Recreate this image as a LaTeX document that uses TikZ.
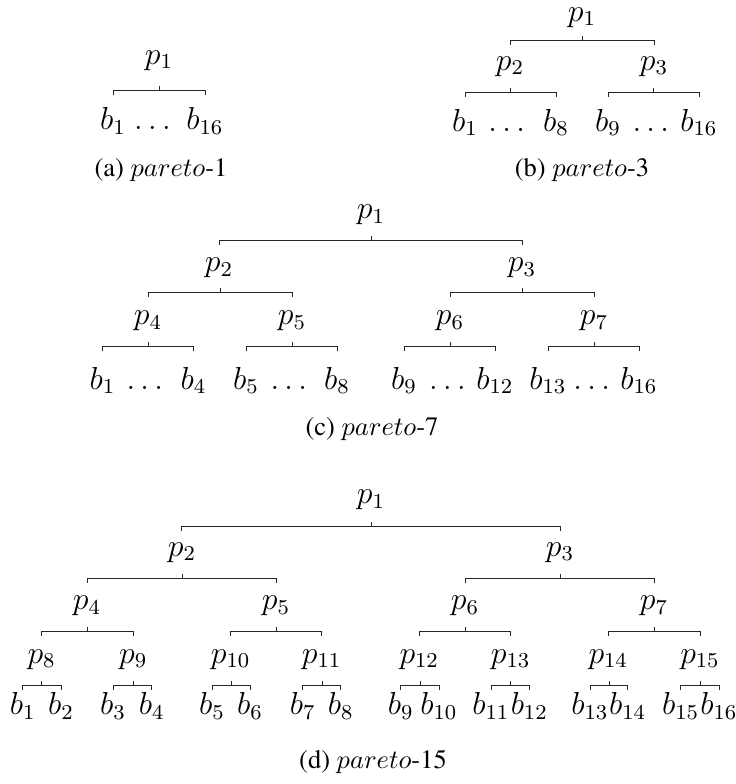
\documentclass[tikz,border=0pt]{standalone}
\usepackage{fontspec}
\IfFontExistsTF{TeX Gyre Termes}{\setmainfont{TeX Gyre Termes}}{\setmainfont{Liberation Serif}}
\newcommand\brk[4]{%
  \pgfmathsetmacro\bkXl{floor(#1)+0.5}%
  \pgfmathsetmacro\bkXm{floor(#2)+0.5}%
  \pgfmathsetmacro\bkXr{floor(#3)+0.5}%
  \pgfmathsetmacro\bkY{floor(#4)+0.5}%
  \draw[brkline] (\bkXl,\bkY+4) -- (\bkXl,\bkY) -- (\bkXr,\bkY) -- (\bkXr,\bkY+4);
  \draw[brkline] (\bkXm,\bkY) -- (\bkXm,\bkY-5);}
\begin{document}
\begin{tikzpicture}[x=0.37736pt,y=-0.37736pt,
  brkline/.style={line width=0.42pt, line cap=butt, draw=black!85},
  lab/.style={anchor=base, inner sep=0pt, font=\fontsize{12}{14}\selectfont},
  leaf/.style={anchor=base, inner sep=0pt, font=\fontsize{12}{14}\selectfont},
  captext/.style={anchor=base, inner sep=0pt, font=\fontsize{10}{12}\selectfont}]
\useasboundingbox (0,0) rectangle (736,784);
% ---------- (a) ----------
\node[lab] (a1) at (159,64) {$p_1$};
\brk{113}{159}{205}{90}
\node[leaf] (ab1) at (113,129.5) {$b_1$};
\node[leaf] (adots) at (152.5,129.5) {$\ldots$};
\node[leaf] (ab16) at (205,129.5) {$b_{16}$};
\node[captext] (acap) at (161,176) {(a) $pareto$-1};
% ---------- (b) ----------
\node[lab] (b1) at (582,21) {$p_1$};
\brk{510}{582}{654}{40}
\node[lab] (b2) at (510,70) {$p_2$};
\node[lab] (b3) at (654,70) {$p_3$};
\brk{465}{510}{556}{92}
\brk{608}{653}{699}{92}
\node[leaf] (bb1) at (465,131) {$b_1$};
\node[leaf] (bd1) at (506.7,131) {$\ldots$};
\node[leaf] (bb8) at (556,131) {$b_8$};
\node[leaf] (bb9) at (608,131) {$b_9$};
\node[leaf] (bd2) at (650.8,131) {$\ldots$};
\node[leaf] (bb16) at (699,131) {$b_{16}$};
\node[captext] (bcap) at (582,176) {(b) $pareto$-3};
% ---------- (c) ----------
\node[lab] (c1) at (371,218.5) {$p_1$};
\brk{219}{371}{522}{240}
\node[lab] (c2) at (219,271.5) {$p_2$};
\node[lab] (c3) at (522,271.5) {$p_3$};
\brk{148}{220}{292}{292}
\brk{450}{522}{594}{292}
\node[lab] (c4) at (148,324.5) {$p_4$};
\node[lab] (c5) at (292,324.5) {$p_5$};
\node[lab] (c6) at (450,324.5) {$p_6$};
\node[lab] (c7) at (594,324.5) {$p_7$};
\brk{102.5}{148}{193.6}{346}
\brk{246}{292}{337}{346}
\brk{404}{450}{495}{346}
\brk{548}{594}{639}{346}
\node[leaf] (cb1) at (102.5,389) {$b_1$};
\node[leaf] (cd1) at (144.8,389) {$\ldots$};
\node[leaf] (cb4) at (193.6,389) {$b_4$};
\node[leaf] (cb5) at (246,389) {$b_5$};
\node[leaf] (cd2) at (288.8,389) {$\ldots$};
\node[leaf] (cb8) at (337,389) {$b_8$};
\node[leaf] (cb9) at (404,389) {$b_9$};
\node[leaf] (cd3) at (447.5,389) {$\ldots$};
\node[leaf] (cb12) at (495,389) {$b_{12}$};
\node[leaf] (cb13) at (548,389) {$b_{13}$};
\node[leaf] (cd4) at (591.7,389) {$\ldots$};
\node[leaf] (cb16) at (639,389) {$b_{16}$};
\node[captext] (ccap) at (372,435) {(c) $pareto$-7};
% ---------- (d) ----------
\node[lab] (d1) at (371,503.5) {$p_1$};
\brk{181.7}{371}{560}{526}
\node[lab] (d2) at (182,556) {$p_2$};
\node[lab] (d3) at (560,556) {$p_3$};
\brk{87}{182}{276}{578}
\brk{465}{560}{654.3}{578}
\node[lab] (d4) at (87,609.5) {$p_4$};
\node[lab] (d5) at (276,609.5) {$p_5$};
\node[lab] (d6) at (465,609.5) {$p_6$};
\node[lab] (d7) at (654,609.5) {$p_7$};
\brk{41.7}{87.3}{133.3}{631}
\brk{230.7}{276}{321.7}{631}
\brk{419.3}{465}{510.7}{631}
\brk{608.3}{654}{700}{631}
\node[lab] (d8) at (41.7,663) {$p_8$};
\node[lab] (d9) at (133.3,663) {$p_9$};
\node[lab] (d10) at (230.7,663) {$p_{10}$};
\node[lab] (d11) at (321.7,663) {$p_{11}$};
\node[lab] (d12) at (419.3,663) {$p_{12}$};
\node[lab] (d13) at (510.7,663) {$p_{13}$};
\node[lab] (d14) at (608.3,663) {$p_{14}$};
\node[lab] (d15) at (700,663) {$p_{15}$};
\brk{22.7}{41.7}{61}{685}
\brk{113}{133.3}{151.7}{685}
\brk{212}{231}{250}{685}
\brk{302.7}{322}{340.7}{685}
\brk{400.7}{420}{439}{685}
\brk{491}{510.5}{529.3}{685}
\brk{590}{609}{627.7}{685}
\brk{680.7}{700}{719}{685}
\node[leaf] (db1) at (22.7,714.5) {$b_1$};
\node[leaf] (db2) at (61,714.5) {$b_2$};
\node[leaf] (db3) at (113,714.5) {$b_3$};
\node[leaf] (db4) at (151.7,714.5) {$b_4$};
\node[leaf] (db5) at (212,714.5) {$b_5$};
\node[leaf] (db6) at (250,714.5) {$b_6$};
\node[leaf] (db7) at (302.7,714.5) {$b_7$};
\node[leaf] (db8) at (340.7,714.5) {$b_8$};
\node[leaf] (db9) at (400.7,714.5) {$b_9$};
\node[leaf] (db10) at (439,714.5) {$b_{10}$};
\node[leaf] (db11) at (491,714.5) {$b_{11}$};
\node[leaf] (db12) at (529.3,714.5) {$b_{12}$};
\node[leaf] (db13) at (590,714.5) {$b_{13}$};
\node[leaf] (db14) at (627.7,714.5) {$b_{14}$};
\node[leaf] (db15) at (680.7,714.5) {$b_{15}$};
\node[leaf] (db16) at (719,714.5) {$b_{16}$};
\node[captext] (dcap) at (373,768) {(d) $pareto$-15};
\end{tikzpicture}
\end{document}
